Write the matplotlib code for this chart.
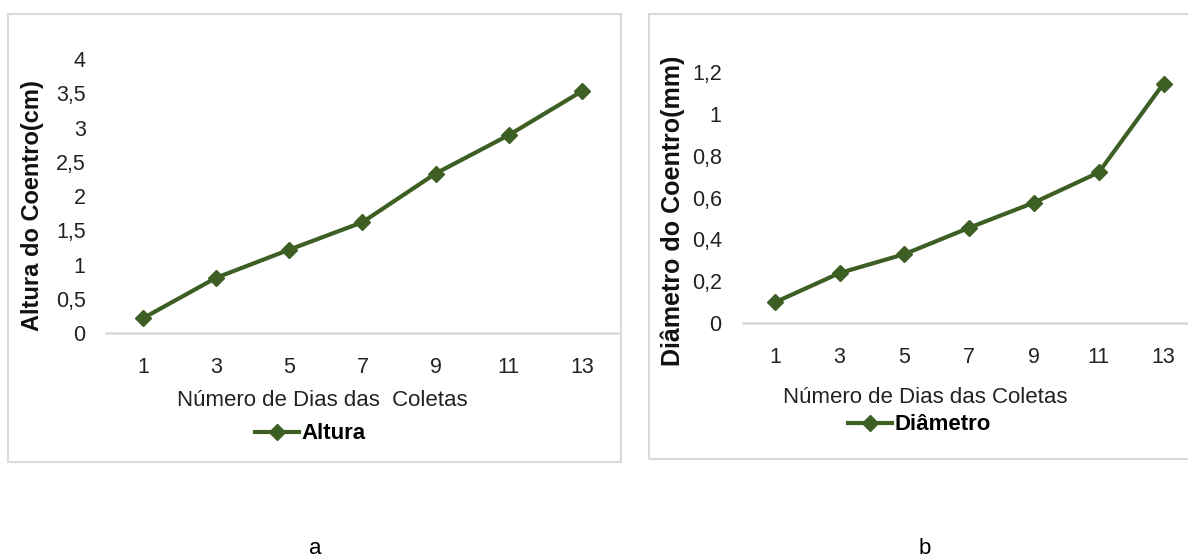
import matplotlib.pyplot as plt
from matplotlib.patches import Rectangle
from matplotlib.ticker import FuncFormatter

plt.rcParams['font.family'] = ['Liberation Sans', 'DejaVu Sans']

dias = ["1", "3", "5", "7", "9", "11", "13"]
altura = [0.22, 0.81, 1.22, 1.62, 2.33, 2.89, 3.53]
diametro = [0.10, 0.24, 0.33, 0.456, 0.576, 0.72, 1.144]

green = "#3D5F24"
grid_gray = "#D9D9D9"

fig = plt.figure(figsize=(11.88, 5.59), dpi=100)

# panel frames
fig.patches.append(Rectangle((8 / 1188, 1 - 462 / 559), 613 / 1188, 448 / 559,
                             transform=fig.transFigure, fill=False,
                             edgecolor=grid_gray, linewidth=1.5))
fig.patches.append(Rectangle((649 / 1188, 1 - 459 / 559), 560 / 1188, 445 / 559,
                             transform=fig.transFigure, fill=False,
                             edgecolor=grid_gray, linewidth=1.5))

ax1 = fig.add_axes([0.0896, 0.4037, 0.431, 0.4908])
ax2 = fig.add_axes([0.625, 0.4216, 0.3817, 0.450])

comma = FuncFormatter(lambda v, p: f"{v:g}".replace(".", ","))

panels = [
    (ax1, altura, "Altura", "Altura do Coentro(cm)", "Número de Dias das  Coletas",
     4, 0.5, (0.421, -0.243), (-0.145, 0.466), (0.261, 0.224), 17),
    (ax2, diametro, "Diâmetro", "Diâmetro do Coentro(mm)", "Número de Dias das Coletas",
     1.2, 0.2, (0.402, -0.293), (-0.1535, 0.446), (0.774, 0.240), 18),
]

for ax, vals, name, ylab, xlab, ymax, step, xl, yl, lg, yfs in panels:
    x = range(len(dias))
    ax.plot(x, vals, color=green, linewidth=3, marker="D", markersize=8,
            label=name, clip_on=False)
    ax.set_xlim(-0.5, len(dias) - 0.5)
    ax.set_ylim(0, ymax)
    ax.set_xticks(list(x))
    ax.set_xticklabels(dias)
    ax.set_yticks([i * step for i in range(int(round(ymax / step)) + 1)])
    ax.yaxis.set_major_formatter(comma)
    ax.tick_params(length=0, labelsize=15.5, colors="#222222")
    ax.tick_params(axis="x", pad=17)
    ax.tick_params(axis="y", pad=15)
    for s in ["top", "right", "left"]:
        ax.spines[s].set_visible(False)
    ax.spines["bottom"].set_color(grid_gray)
    ax.spines["bottom"].set_linewidth(1.8)
    ax.set_xlabel(xlab, fontsize=16, color="#222222")
    ax.xaxis.set_label_coords(*xl)
    ax.xaxis.label.set_va("center")
    ax.set_ylabel(ylab, fontsize=yfs, fontweight="bold", color="#111111")
    ax.yaxis.set_label_coords(*yl)
    ax.yaxis.label.set_va("center")
    ax.legend(loc="center", bbox_to_anchor=lg, bbox_transform=fig.transFigure,
              frameon=False, handlelength=2.0, handletextpad=0.1,
              prop={"weight": "bold", "size": 16})

fig.text(315 / 1188, 1 - 548 / 559, "a", fontsize=16, ha="center", va="center")
fig.text(925 / 1188, 1 - 548 / 559, "b", fontsize=16, ha="center", va="center")

fig.savefig("out.png", dpi=100)
